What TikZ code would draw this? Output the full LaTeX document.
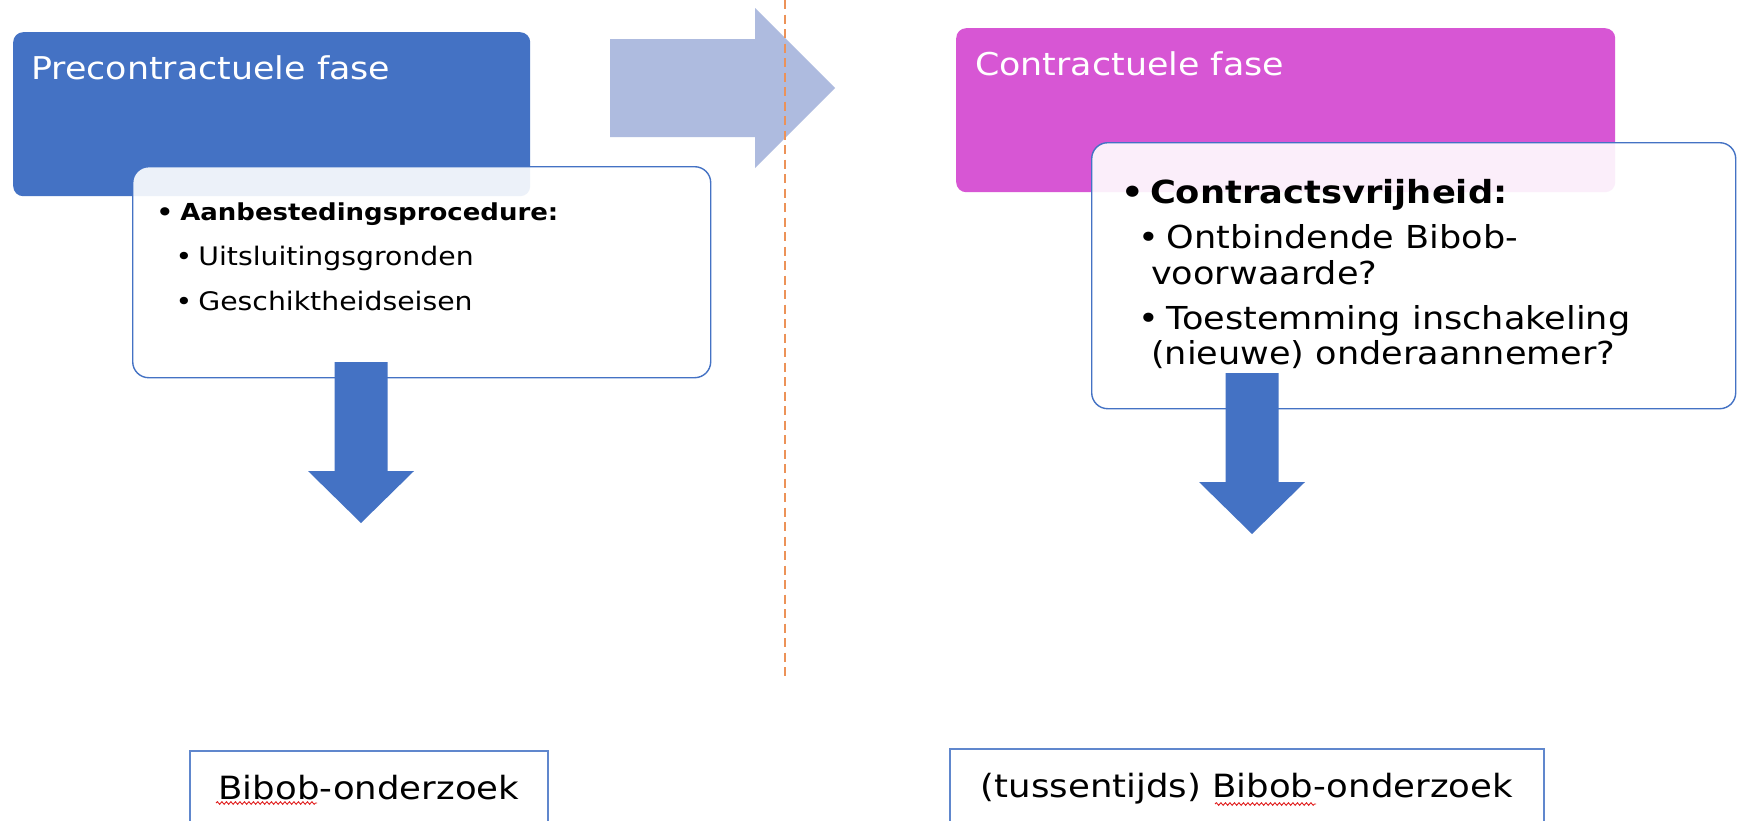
\documentclass[tikz,border=0pt]{standalone}
\usepackage{fontspec}
\setmainfont{DejaVu Sans}[FakeStretch=1.11]
\definecolor{MainBlue}{RGB}{68, 114, 196}
\definecolor{Orchid}{RGB}{215, 86, 212}
\definecolor{PaleBlue}{RGB}{174, 187, 223}
\definecolor{Orange}{RGB}{236, 146, 88}
\definecolor{SpellRed}{RGB}{225, 30, 30}
\usetikzlibrary{arrows.meta, positioning, calc, decorations.pathmorphing}

\begin{document}
\begin{tikzpicture}[x=1pt, y=-1pt,
        phase/.style={rectangle, rounded corners=10pt, anchor=north west, inner sep=0pt, minimum height=164pt},
        listbox/.style={rectangle, draw=MainBlue, line width=1.4pt, fill=white, fill opacity=0.9, rounded corners=16pt, anchor=north west, inner sep=0pt},
        headtxt/.style={text=white, font=\fontsize{31.4}{36}\selectfont, inner sep=0pt, anchor=base west},
        bigtxt/.style={text=black, font=\fontsize{31.6}{36}\selectfont, inner sep=0pt, anchor=base west},
        smalltxt/.style={text=black, font=\fontsize{25.5}{30}\selectfont, inner sep=0pt, anchor=base west},
        resultbox/.style={rectangle, draw=MainBlue!85, line width=1.8pt, fill=white, anchor=north west, minimum height=74pt, text height=23.5pt, text depth=0pt, font=\fontsize{32}{36}\selectfont},
        blockarrow/.style={fill=MainBlue, draw=none},
        squiggle/.style={SpellRed, line width=0.9pt, decorate, decoration={snake, amplitude=1.3pt, segment length=4.5pt}},
        downarrow/.pic={\fill[blockarrow] (-26.5,0) -- (26.5,0) -- (26.5,109) -- (53,109) -- (0,161) -- (-53,109) -- (-26.5,109) -- cycle;}
    ]
        \path[use as bounding box, clip] (0,0) rectangle (1737,820);
        \fill[white] (0,0) rectangle (1737,820);

        \node[phase, fill=MainBlue, minimum width=517pt] (pre) at (13,32) {};
        \node[headtxt] (pretitle) at ($(pre.north west)+(18,47)$) {Precontractuele fase};
        \node[listbox, minimum width=578pt, minimum height=211pt] (prelist) at (132,166) {};
        \node[smalltxt, font=\fontsize{23.4}{28}\selectfont\bfseries] (pre1) at ($(prelist.north west)+(24.5,54)$) {•\kern-2pt\ Aanbestedingsprocedure:};
        \node[smalltxt] (pre2) at ($(prelist.north west)+(43.5,99)$) {•\kern-3pt\ Uitsluitingsgronden};
        \node[smalltxt] (pre3) at ($(prelist.north west)+(43.5,144)$) {•\kern-3pt\ Geschiktheidseisen};

        \fill[PaleBlue] (610,39) -- (755,39) -- (755,8) -- (835,88) -- (755,168) -- (755,137) -- (610,137) -- cycle;
        \coordinate (divtop) at (785,0);
        \coordinate (divbot) at (785,677);
        \draw[Orange, line width=2pt, dash pattern=on 9pt off 5.5pt] (divtop) -- (divbot);

        \node[phase, fill=Orchid, minimum width=659pt] (con) at (956,28) {};
        \node[headtxt] (contitle) at ($(con.north west)+(19,47)$) {Contractuele fase};
        \node[listbox, minimum width=644pt, minimum height=266pt] (conlist) at (1091,142) {};
        \node[bigtxt, font=\fontsize{31.8}{36}\selectfont\bfseries] (con1) at ($(conlist.north west)+(30,61)$) {•\kern-6pt\ Contractsvrijheid:};
        \node[bigtxt] (con2) at ($(conlist.north west)+(47.5,106)$) {•\kern-4pt\ Ontbindende Bibob-};
        \node[bigtxt] (con3) at ($(conlist.north west)+(60,142)$) {voorwaarde?};
        \node[bigtxt] (con4) at ($(conlist.north west)+(47.5,187)$) {•\kern-4pt\ Toestemming inschakeling};
        \node[bigtxt] (con5) at ($(conlist.north west)+(60,222)$) {(nieuwe) onderaannemer?};

        \pic at (361,362) {downarrow};
        \pic at (1252,373) {downarrow};

        \node[resultbox, minimum width=358pt] (preres) at (189,750) {Bibob-onderzoek};
        \node[resultbox, minimum width=594pt] (conres) at (949,748) {(tussentijds) Bibob-onderzoek};
        \draw[squiggle] ($(preres.north west)+(27,53)$) -- ++(101,0);
        \draw[squiggle] ($(conres.north west)+(266,56)$) -- ++(101,0);
    \end{tikzpicture}
\end{document}
